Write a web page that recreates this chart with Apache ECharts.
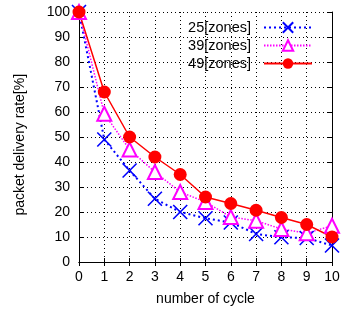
<!DOCTYPE html>
<html><head><meta charset="utf-8">
<script src="https://cdn.jsdelivr.net/npm/echarts@6/dist/echarts.min.js"></script>
<style>html,body{margin:0;padding:0;background:#fff}#c{width:343px;height:311px}</style>
</head><body><div id="c"></div>
<script>
const cycles = ['0','1','2','3','4','5','6','7','8','9','10'];
const zones25 = [100, 49, 36.6, 25.3, 20, 17.5, 15.8, 11.2, 9.9, 9.6, 6.6];
const zones39 = [100, 59.3, 45, 36, 28, 24, 18, 16.5, 13.2, 11.5, 14.5];
const zones49 = [100, 68, 50, 42, 35, 26, 23.4, 20.7, 17.8, 15, 10];
const names = ['25[zones]', '39[zones]', '49[zones]'];

const font = 'Liberation Sans, Arial, sans-serif';
const chart = echarts.init(document.getElementById('c'), null, {renderer: 'canvas'});
const gridLine = {show: true, lineStyle: {color: '#000', type: [1, 3], width: 1}};
const baseAxis = {
  axisLine: {show: true, lineStyle: {color: '#000', width: 1}},
  axisTick: {show: true, inside: true, length: 4, lineStyle: {color: '#000'}},
};
chart.setOption({
  animation: false,
  grid: {left: 79, right: 11, top: 12, bottom: 46},
  legend: {
    orient: 'vertical', right: 30, top: 20, align: 'right', padding: 0,
    itemWidth: 48, itemHeight: 13, itemGap: 3,
    textStyle: {fontFamily: font, fontSize: 14.5, lineHeight: 14, color: '#000', padding: [0, 8, 0, 0]},
    data: names
  },
  xAxis: [{
    type: 'category', data: cycles, boundaryGap: false, position: 'bottom',
    ...baseAxis,
    axisLabel: {fontFamily: font, fontSize: 14, color: '#000', margin: 8},
    splitLine: gridLine,
    name: 'number of cycle', nameLocation: 'middle', nameGap: 30,
    nameTextStyle: {fontFamily: font, fontSize: 14, color: '#000'}
  }, {
    type: 'category', data: cycles, boundaryGap: false, position: 'top',
    ...baseAxis, axisLabel: {show: false}, splitLine: {show: false}
  }],
  yAxis: [{
    type: 'value', min: 0, max: 100, interval: 10, position: 'left',
    ...baseAxis,
    axisLabel: {fontFamily: font, fontSize: 14, color: '#000', margin: 9},
    splitLine: gridLine,
    name: 'packet delivery rate[%]    ', nameLocation: 'middle', nameGap: 52,
    nameTextStyle: {fontFamily: font, fontSize: 14, color: '#000'}
  }, {
    type: 'value', min: 0, max: 100, interval: 10, position: 'right',
    ...baseAxis, axisLabel: {show: false}, splitLine: {show: false}
  }],
  series: [{
    name: names[0], type: 'line', data: zones25,
    symbol: 'path://M0,0L10,10M10,0L0,10', symbolSize: 14,
    itemStyle: {color: '#0000ff', borderColor: '#0000ff', borderWidth: 1.6},
    lineStyle: {color: '#0000ff', width: 2, type: [2, 3]}
  }, {
    name: names[1], type: 'line', data: zones39,
    symbol: 'emptyTriangle', symbolSize: 14,
    itemStyle: {color: '#ff00ff', borderColor: '#ff00ff', borderWidth: 1.5},
    lineStyle: {color: '#ff00ff', width: 1.5, type: [1.5, 1.5]}
  }, {
    name: names[2], type: 'line', data: zones49,
    symbol: 'circle', symbolSize: 13,
    itemStyle: {color: '#ff0000'},
    lineStyle: {color: '#ff0000', width: 1.5}
  }]
});
</script></body></html>
